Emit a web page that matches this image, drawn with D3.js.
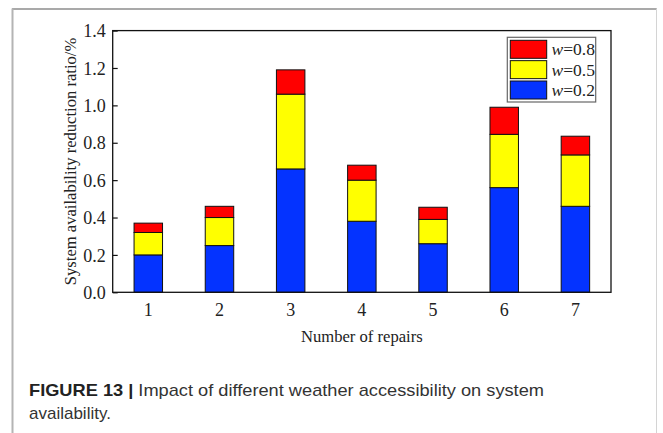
<!DOCTYPE html>
<html>
<head>
<meta charset="utf-8">
<script src="https://cdn.jsdelivr.net/npm/d3@7"></script>
<style>
  html, body { margin: 0; padding: 0; background: #fff; }
  svg { display: block; }
</style>
</head>
<body>
<svg id="chart" width="663" height="433"></svg>
<script>
// Number of repairs on the x axis
const categories = [1, 2, 3, 4, 5, 6, 7];
// Stacked segments of the availability reduction ratio (%) per weather accessibility level
const seriesKeys = ["w02", "w05", "w08"];
const seriesLabels = ["0.2", "0.5", "0.8"];
const w02 = [0.20, 0.25, 0.66, 0.38, 0.26, 0.56, 0.46];
const w05 = [0.12, 0.15, 0.40, 0.22, 0.13, 0.285, 0.275];
const w08 = [0.05, 0.06, 0.13, 0.08, 0.065, 0.145, 0.10];
const yTicks = [0, 0.2, 0.4, 0.6, 0.8, 1.0, 1.2, 1.4];
const colors = { w02: "#0433ff", w05: "#ffff00", w08: "#ff0000" };

const rows = categories.map((c, i) => ({ cat: c, w02: w02[i], w05: w05[i], w08: w08[i] }));

const svg = d3.select("#chart");
const serif = "'Liberation Serif', 'Times New Roman', serif";
const sans = "'Liberation Sans', Arial, Helvetica, sans-serif";

// page frame
svg.append("line").attr("x1", 12).attr("x2", 657).attr("y1", 9).attr("y2", 9)
  .attr("stroke", "#8c8c8c").attr("stroke-width", 1.5);
svg.append("line").attr("x1", 12.5).attr("x2", 12.5).attr("y1", 8.5).attr("y2", 433)
  .attr("stroke", "#b4b4b4").attr("stroke-width", 2);
svg.append("line").attr("x1", 656.5).attr("x2", 656.5).attr("y1", 8.5).attr("y2", 433)
  .attr("stroke", "#d4d4d4").attr("stroke-width", 1);

const plot = { left: 112.7, right: 611, top: 30.6, bottom: 292.3 };

const x = d3.scaleBand().domain(categories)
  .range([plot.left, plot.right]).paddingInner(0.6).paddingOuter(0.3);
const y = d3.scaleLinear().domain([0, 1.4]).range([plot.bottom, plot.top]);

const stack = d3.stack().keys(seriesKeys);
const layers = stack(rows);

// stacked bars
svg.append("g").selectAll("g").data(layers).join("g")
  .attr("fill", d => colors[d.key])
  .selectAll("rect").data(d => d).join("rect")
  .attr("x", d => x(d.data.cat))
  .attr("width", x.bandwidth())
  .attr("y", d => y(d[1]))
  .attr("height", d => y(d[0]) - y(d[1]))
  .attr("stroke", "#111").attr("stroke-width", 1);

// y axis with inward ticks
const yAxis = d3.axisLeft(y).tickValues(yTicks).tickFormat(d3.format(".1f"))
  .tickSizeInner(-5).tickSizeOuter(0).tickPadding(7);
const gy = svg.append("g").attr("transform", `translate(${plot.left},0)`).call(yAxis);
gy.select(".domain").remove();
gy.selectAll(".tick line").attr("stroke", "#111").attr("stroke-width", 1.2);
gy.selectAll(".tick text").attr("font-family", serif).attr("font-size", 18)
  .attr("fill", "#222").attr("dy", "0.34em");

// x axis labels only
const xAxis = d3.axisBottom(x).tickSize(0).tickPadding(10.5);
const gx = svg.append("g").attr("transform", `translate(0,${plot.bottom})`).call(xAxis);
gx.select(".domain").remove();
gx.selectAll(".tick text").attr("font-family", serif).attr("font-size", 18)
  .attr("fill", "#222").attr("dy", "0.71em");

// plot frame
svg.append("rect").attr("x", plot.left).attr("y", plot.top)
  .attr("width", plot.right - plot.left).attr("height", plot.bottom - plot.top)
  .attr("fill", "none").attr("stroke", "#111").attr("stroke-width", 1.3);

// axis titles
svg.append("text").attr("x", (plot.left + plot.right) / 2).attr("y", 341.5)
  .attr("text-anchor", "middle").attr("font-family", serif).attr("font-size", 16.6)
  .attr("fill", "#222").text("Number of repairs");
svg.append("text")
  .attr("transform", `translate(76,${(plot.top + plot.bottom) / 2}) rotate(-90)`)
  .attr("text-anchor", "middle").attr("font-family", serif).attr("font-size", 16.6)
  .attr("fill", "#222").text("System availability reduction ratio/%");

// legend (top entry is the uppermost segment)
const legendOrder = seriesKeys.slice().reverse();
const lg = svg.append("g");
lg.append("rect").attr("x", 507.3).attr("y", 37.3).attr("width", 88.4).attr("height", 64.7)
  .attr("fill", "#fff").attr("stroke", "#666").attr("stroke-width", 1.2);
legendOrder.forEach((k, i) => {
  const yy = 40.3 + i * 20.35;
  lg.append("rect").attr("x", 510.3).attr("y", yy).attr("width", 36.4).attr("height", 18)
    .attr("fill", colors[k]).attr("stroke", "#111").attr("stroke-width", 1);
  const t = lg.append("text").attr("x", 551.5).attr("y", yy + 15)
    .attr("font-family", serif).attr("font-size", 17.5).attr("fill", "#222");
  t.append("tspan").attr("font-style", "italic").text("w");
  t.append("tspan").text("=" + seriesLabels[seriesKeys.indexOf(k)]);
});

// caption
const cap1 = svg.append("text").attr("x", 29).attr("y", 395.5)
  .attr("font-family", sans).attr("font-size", 17).attr("fill", "#222")
  .attr("textLength", 515).attr("lengthAdjust", "spacingAndGlyphs");
cap1.append("tspan").attr("font-weight", "bold").text("FIGURE 13 | ");
cap1.append("tspan").attr("fill", "#333").text("Impact of different weather accessibility on system");
svg.append("text").attr("x", 29).attr("y", 418.5)
  .attr("font-family", sans).attr("font-size", 17).attr("fill", "#333")
  .text("availability.");
</script>
</body>
</html>
